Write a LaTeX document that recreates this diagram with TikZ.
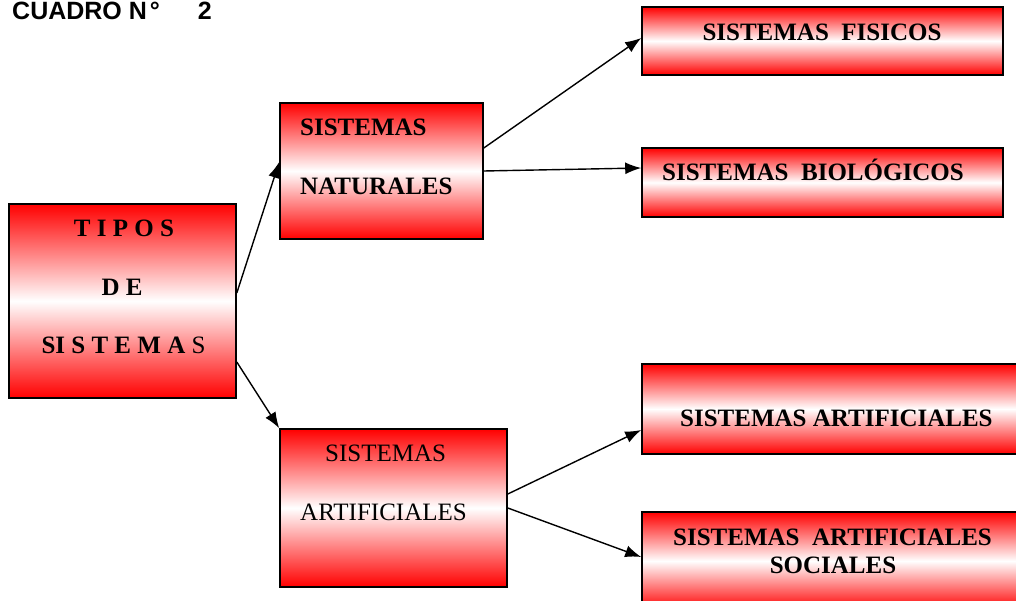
\documentclass[tikz,border=0pt]{standalone}
\usepackage{fontspec}
\setmainfont{Liberation Serif}
\newfontfamily\titlefont{Liberation Sans}
\usetikzlibrary{arrows.meta}

\tikzset{
  box/.style={draw=black, line width=1.6pt, top color=red, bottom color=red,
    middle color=white, inner sep=0pt},
  lbl/.style={inner sep=0pt, font=\fontsize{25}{30}\selectfont\bfseries},
  lblr/.style={inner sep=0pt, font=\fontsize{25}{30}\selectfont},
  conn/.style={line width=1.4pt, -{Latex[length=16pt,width=12pt]}}
}

\begin{document}
\begin{tikzpicture}[x=1pt, y=-1pt]
\useasboundingbox (0,0) rectangle (1016,601);

% title
\node[anchor=base west, inner sep=0pt, font=\titlefont\fontsize{25}{30}\selectfont\bfseries]
  (title) at (12,20) {CUADRO N\hspace{3pt}°\hspace{38pt}2};

% boxes
\node[box, minimum width=227pt, minimum height=194pt] (tipos) at (122.5,301) {};
\node[box, minimum width=203pt, minimum height=136pt] (nat)   at (381.5,171) {};
\node[box, minimum width=227pt, minimum height=158pt] (art)   at (393.5,508) {};
\node[box, minimum width=361pt, minimum height=68pt]  (fis)   at (822.5,41) {};
\node[box, minimum width=361pt, minimum height=69pt]  (bio)   at (822.5,182.5) {};
\node[box, minimum width=378pt, minimum height=90pt]  (artr)  at (831,409) {};
\node[box, minimum width=378pt, minimum height=98pt]  (soc)   at (831,561) {};

% labels
\node[lbl, anchor=base] (t1) at (124,237) {T I P O S};
\node[lbl, anchor=base] (t2) at (122,295) {D E};
\node[lbl, anchor=base] (t3) at (123.5,353) {SI S T E M A {\mdseries S}};

\node[lbl, anchor=base west] (n1) at (300,136) {SISTEMAS};
\node[lbl, anchor=base west] (n2) at (300,195) {NATURALES};

\node[lblr, anchor=base west] (a1) at (325,461) {SISTEMAS};
\node[lblr, anchor=base west] (a2) at (300,520) {ARTIFICIALES};

\node[lbl, anchor=base] (f1) at (822,41) {SISTEMAS~~FISICOS};
\node[lbl, anchor=base west] (b1) at (662,181) {SISTEMAS~~BIOLÓGICOS};
\node[lbl, anchor=base west] (r1) at (680,426) {SISTEMAS ARTIFICIALES};
\node[lbl, anchor=base west] (s1) at (673,545) {SISTEMAS~~ARTIFICIALES};
\node[lbl, anchor=base] (s2) at (833,573) {SOCIALES};

% connectors
\draw[conn] ([yshift=8pt]tipos.east) -- ([yshift=9pt]nat.west);
\draw[conn] ([yshift=-61pt]tipos.east) -- (art.north west);
\draw[conn] ([yshift=23pt]nat.east) -- ([yshift=3pt]fis.west);
\draw[conn] (nat.east) -- ([yshift=14.5pt]bio.west);
\draw[conn] ([yshift=14pt]art.east) -- ([yshift=-21pt]artr.west);
\draw[conn] (art.east) -- ([yshift=4pt]soc.west);
\end{tikzpicture}
\end{document}
